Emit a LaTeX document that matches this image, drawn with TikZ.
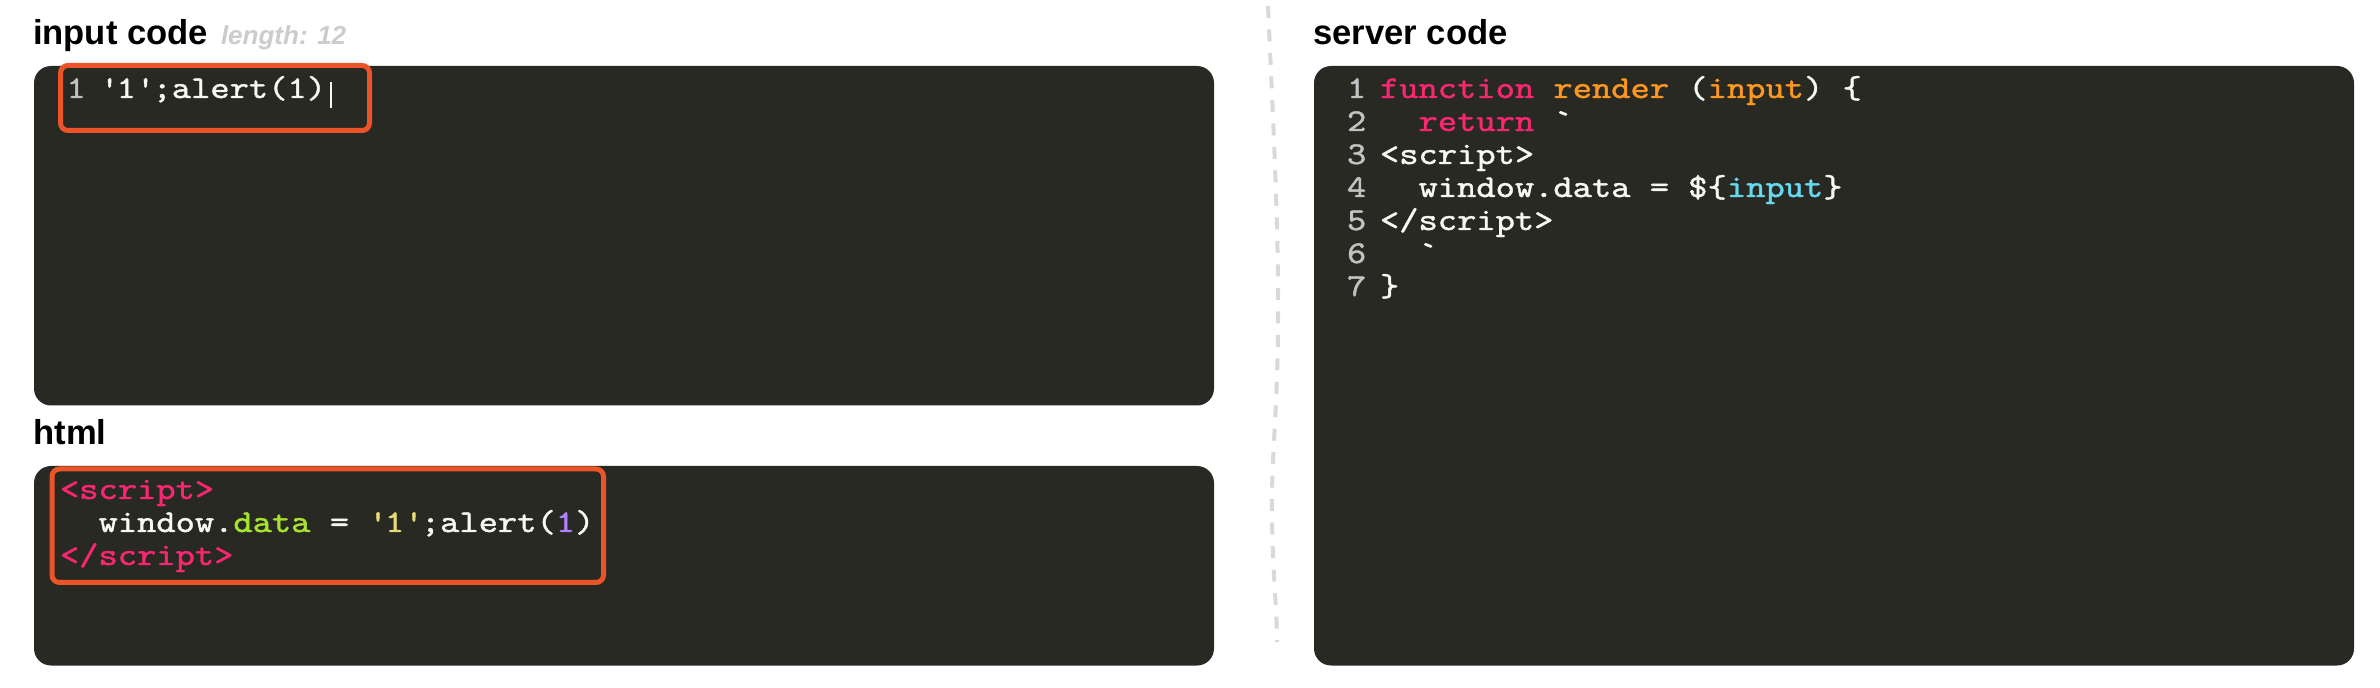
\documentclass[tikz,border=0pt]{standalone}
\usepackage{fontspec}
\setmainfont{Liberation Sans}
\newfontfamily\codefont{lmmono10-regular.otf}[Ligatures=TeXOff,FakeStretch=1.158,FakeBold=1.3]
\definecolor{panelbg}{RGB}{40,41,35}
\definecolor{hotred}{RGB}{234,84,40}
\definecolor{codefg}{RGB}{248,248,242}
\definecolor{lnumc}{RGB}{194,194,194}
\definecolor{mpink}{RGB}{249,38,114}
\definecolor{morange}{RGB}{253,151,31}
\definecolor{mgreen}{RGB}{166,226,46}
\definecolor{myellow}{RGB}{230,219,116}
\definecolor{mpurple}{RGB}{174,129,255}
\definecolor{mcyan}{RGB}{102,217,239}
\definecolor{dividerc}{RGB}{217,217,217}
\definecolor{lengthc}{RGB}{204,204,204}
\newcommand\SP{\hphantom{x}}
\newcommand\kw[1]{\textcolor{mpink}{#1}}
\newcommand\fnc[1]{\textcolor{morange}{#1}}
\newcommand\grn[1]{\textcolor{mgreen}{#1}}
\newcommand\yel[1]{\textcolor{myellow}{#1}}
\newcommand\pur[1]{\textcolor{mpurple}{#1}}
\newcommand\cya[1]{\textcolor{mcyan}{#1}}
\begin{document}
\begin{tikzpicture}[x=0.5pt,y=-0.5pt,
  head/.style={anchor=base west, inner sep=0pt, outer sep=0pt, font=\fontsize{17.3pt}{20pt}\selectfont\bfseries},
  sublabel/.style={anchor=base west, inner sep=0pt, outer sep=0pt, text=lengthc, font=\fontsize{13pt}{16pt}\selectfont\bfseries\itshape},
  panel/.style={fill=panelbg, rounded corners=8.5pt, inner sep=0pt, outer sep=0pt, anchor=north west},
  hilite/.style={draw=hotred, line width=2.5pt, rounded corners=3.75pt, inner sep=0pt, outer sep=0pt, anchor=north west},
  codeline/.style={anchor=base west, inner sep=0pt, outer sep=0pt, text=codefg, font=\codefont\fontsize{15.85pt}{18pt}\selectfont},
  lnum/.style={codeline, text=lnumc},
  divider/.style={draw=dividerc, line width=2pt, dash pattern=on 6pt off 5.75pt}
]
\useasboundingbox (0,0) rectangle (2380,688);

% headings
\node[head] (hinput) at (33,45) {input code};
\node[sublabel] (hlen) at (221,45) {length: 12};
\node[head] (hhtml) at (33.5,445) {html};
\node[head] (hserver) at (1313.5,45) {server code};

% panels
\node[panel, minimum width=590pt, minimum height=169.75pt] (inpanel) at (34,66) {};
\node[panel, minimum width=590pt, minimum height=99.75pt] (htmlpanel) at (34,466) {};
\node[panel, minimum width=520pt, minimum height=299.75pt] (srvpanel) at (1314,66) {};

% divider
\coordinate (dtop) at (1268,6);
\coordinate (dmid) at (1278,330);
\coordinate (dlow) at (1272,520);
\coordinate (dbot) at (1277,642);
\draw[divider] (dtop) .. controls (1273,120) and (1279,230) .. (dmid)
  .. controls (1277,420) and (1271,460) .. (dlow)
  .. controls (1273,580) and (1277,610) .. (dbot);

% input code
\node[lnum] (inl1) at (66.5,98) {1};
\node[codeline] (inc1) at (100,98) {\textquotesingle 1\textquotesingle;alert(1)};
\coordinate (curtop) at (331,82);
\coordinate (curbot) at (331,108);
\draw[codefg, line width=0.75pt] (curtop) -- (curbot);
\node[hilite, minimum width=154.5pt, minimum height=32.5pt] (inhl) at (60.5,65.5) {};

% html
\node[codeline] (ht1) at (60,499) {\kw{<script>}};
\node[codeline] (ht2) at (60,532) {\SP\SP window.\grn{data} = \yel{\textquotesingle 1\textquotesingle};alert(\pur{1})};
\node[codeline] (ht3) at (60,565) {\kw{</script>}};
\node[hilite, minimum width=275.75pt, minimum height=56.75pt] (hthl) at (52,469) {};

% server code
\node[lnum] (sn1) at (1347,98) {1};
\node[lnum] (sn2) at (1347,131) {2};
\node[lnum] (sn3) at (1347,164) {3};
\node[lnum] (sn4) at (1347,197) {4};
\node[lnum] (sn5) at (1347,230) {5};
\node[lnum] (sn6) at (1347,263) {6};
\node[lnum] (sn7) at (1347,296) {7};
\node[codeline] (sc1) at (1380,98) {\kw{function} \fnc{render} (\fnc{input}) \{};
\node[codeline] (sc2) at (1380,131) {\SP\SP\kw{return} \textasciigrave};
\node[codeline] (sc3) at (1380,164) {<script>};
\node[codeline] (sc4) at (1380,197) {\SP\SP window.data = \$\{\cya{input}\}};
\node[codeline] (sc5) at (1380,230) {</script>};
\node[codeline] (sc6) at (1380,263) {\SP\SP\textasciigrave};
\node[codeline] (sc7) at (1380,296) {\}};
\end{tikzpicture}
\end{document}
